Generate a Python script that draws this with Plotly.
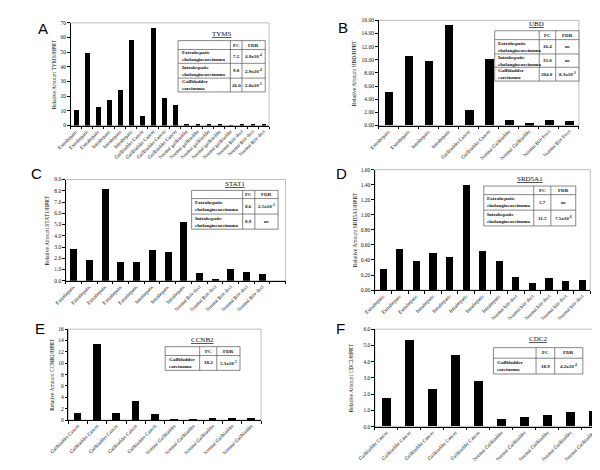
import plotly.graph_objects as go

W, H = 600, 470

# ---------------- data ----------------
A_title = "TYMS"
A_cats = ["Extrahepatic"] * 3 + ["Intrahepatic"] * 3 + ["Gallbladder Cancer"] * 4 + \
         ["Normal gallbladder"] * 5 + ["Normal Bile duct"] * 3
A_vals = [10.6, 49.7, 12.6, 17.4, 24.6, 58.3, 6.3, 66.6, 19.2, 14.4,
          0.6, 1.0, 1.3, 0.7, 0.3, 1.0, 0.7, 0.5]
A_ticks = [0, 10, 20, 30, 40, 50, 60, 70]

B_title = "UBD"
B_cats = ["Extrahepatic", "Extrahepatic", "Intrahepatic", "Intrahepatic",
          "Gallbladder Cancer", "Gallbladder Cancer", "Normal Gallbladder",
          "Normal Gallbladder", "Normal Bile Duct", "Normal Bile Duct"]
B_vals = [5.1, 10.5, 9.8, 15.2, 2.3, 10.05, 0.75, 0.28, 0.8, 0.65]
B_ticks = [0, 2, 4, 6, 8, 10, 12, 14, 16]

C_title = "STAT1"
C_cats = ["Extrahepatic"] * 5 + ["Intrahepatic"] * 3 + ["Normal Bile duct"] * 5 + [" "]
C_vals = [2.9, 1.85, 8.2, 1.75, 1.7, 2.8, 2.6, 5.25, 0.73, 0.23, 1.1, 0.79, 0.62, None]
C_ticks = [0, 1, 2, 3, 4, 5, 6, 7, 8, 9]

D_title = "SRD5A1"
D_cats = ["Extrahepatic"] * 3 + ["Intrahepatic"] * 5 + ["Normal bile duct"] * 5
D_vals = [0.285, 0.55, 0.385, 0.50, 0.44, 1.40, 0.52, 0.385, 0.175, 0.105, 0.168, 0.13, 0.14]
D_ticks = [0, 0.2, 0.4, 0.6, 0.8, 1.0, 1.2, 1.4, 1.6]

E_title = "CCNB2"
E_cats = ["Gallbladder Cancer"] * 5 + ["Normal Gallbladder"] * 5
E_vals = [1.16, 13.4, 1.16, 3.3, 1.0, 0.1, 0.1, 0.15, 0.15, 0.2]
E_ticks = [0, 2, 4, 6, 8, 10, 12, 14, 16]

F_title = "CDC2"
F_cats = ["Gallbladder Cancer"] * 5 + ["Normal Gallbladder"] * 5
F_vals = [1.74, 5.33, 2.29, 4.42, 2.8, 0.43, 0.61, 0.71, 0.89, 0.97]
F_ticks = [0, 1, 2, 3, 4, 5, 6]

# table contents
A_rows = [["Extrahepatic<br>cholangiocarcinoma", "7.2", "4.9x10<sup>-4</sup>"],
          ["Intrahepatic<br>cholangiocarcinoma", "9.0", "2.9x10<sup>-4</sup>"],
          ["Gallbladder<br>carcinoma", "26.0", "2.0x10<sup>-3</sup>"]]
B_rows = [["Extrahepatic<br>cholangiocarcinoma", "16.4", "ns"],
          ["Intrahepatic<br>cholangiocarcinoma", "33.0", "ns"],
          ["Gallbladder<br>carcinoma", "204.0", "8.3x10<sup>-3</sup>"]]
C_rows = [["Extrahepatic<br>cholangiocarcinoma", "8.6", "2.5x10<sup>-3</sup>"],
          ["Intrahepatic<br>cholangiocarcinoma", "8.9", "ns"]]
D_rows = [["Extrahepatic<br>cholangiocarcinoma", "5.7", "ns"],
          ["Intrahepatic<br>cholangiocarcinoma", "11.5", "7.5x10<sup>-6</sup>"]]
E_rows = [["Gallbladder<br>carcinoma", "18.2", "5.1x10<sup>-5</sup>"]]
F_rows = [["Gallbladder<br>carcinoma", "18.9", "4.2x10<sup>-4</sup>"]]
header = ["", "FC", "FDR"]

SERIF = "Liberation Serif, Times New Roman, serif"
SANS = "Liberation Sans, Arial, sans-serif"
TXT = "#111111"


def X(px):
    return px / W


def Y(py):
    return 1 - py / H


panels = [
    dict(letter="A", cats=A_cats, vals=A_vals, ticks=A_ticks, fmt="{:.0f}", gene=A_title, rows=A_rows,
         rect=(45, 250, 12, 116), lpos=(17, 18), ytx=28, bw=0.42,
         tab=dict(x=(156, 210, 222, 246), y=(30, 39, 53, 68, 82), ty=23)),
    dict(letter="B", cats=B_cats, vals=B_vals, ticks=B_ticks, fmt="{:.2f}", gene=B_title, rows=B_rows,
         rect=(363, 570, 9.5, 116), lpos=(326, 17), ytx=338, bw=0.43,
         tab=dict(x=(483, 529, 546, 570), y=(20, 29, 43.5, 57, 71), ty=13.5)),
    dict(letter="C", cats=C_cats, vals=C_vals, ticks=C_ticks, fmt="{:.1f}", gene=C_title, rows=C_rows,
         rect=(40, 267, 170.7, 273.3), lpos=(10, 165), ytx=21, bw=0.45,
         tab=dict(x=(170, 222.7, 235.3, 259.3), y=(181.7, 190, 205.7, 221), ty=175)),
    dict(letter="D", cats=D_cats, vals=D_vals, ticks=D_ticks, fmt="{:.2f}", gene=D_title, rows=D_rows,
         rect=(359.3, 581.7, 160.7, 282.7), lpos=(325, 165), ytx=339, bw=0.43,
         tab=dict(x=(471.7, 523.3, 541, 566.7), y=(177.3, 186, 201.7, 217.7), ty=170)),
    dict(letter="E", cats=E_cats, vals=E_vals, ticks=E_ticks, fmt="{:.0f}", gene=E_title, rows=E_rows,
         rect=(42.7, 241.7, 322.3, 414.3), lpos=(13, 322), ytx=25, bw=0.4,
         tab=dict(x=(142.7, 178.3, 196, 220), y=(340, 349, 364), ty=333.3)),
    dict(letter="F", cats=F_cats, vals=F_vals, ticks=F_ticks, fmt="{:.1f}", gene=F_title, rows=F_rows,
         rect=(359.3, 596.7, 322.3, 421), lpos=(324, 322), ytx=335, bw=0.42,
         tab=dict(x=(481.7, 525.7, 545, 574), y=(341, 351.7, 367.7), ty=332.3)),
]

fig = go.Figure()
shapes = []
annotations = []
layout_axes = {}

for i, p in enumerate(panels, start=1):
    xa = "x" if i == 1 else f"x{i}"
    ya = "y" if i == 1 else f"y{i}"
    n = len(p["cats"])
    idx = list(range(n))
    fig.add_trace(go.Bar(x=idx, y=p["vals"], xaxis=xa, yaxis=ya, width=p["bw"],
                         marker=dict(color="black", line=dict(width=0)), showlegend=False))
    x0, x1, y0, y1 = p["rect"]
    ymax = p["ticks"][-1]
    kx = "xaxis" if i == 1 else f"xaxis{i}"
    ky = "yaxis" if i == 1 else f"yaxis{i}"
    layout_axes[kx] = dict(domain=[X(x0), X(x1)], anchor=ya, range=[-0.5, n - 0.5],
                           tickmode="array", tickvals=idx, ticktext=p["cats"], tickangle=-45,
                           ticks="", showline=True, linecolor="black", linewidth=1,
                           showgrid=False, zeroline=False, fixedrange=True,
                           tickfont=dict(family=SERIF, size=5, color=TXT),
                           minor=dict(ticks="outside", tick0=-0.5, dtick=1, ticklen=2.5,
                                      tickcolor="black", tickwidth=0.8, showgrid=False))
    layout_axes[ky] = dict(domain=[Y(y1), Y(y0)], anchor=xa, range=[0, ymax],
                           tickmode="array", tickvals=p["ticks"],
                           ticktext=[p["fmt"].format(t) for t in p["ticks"]],
                           ticks="outside", ticklen=2.5, tickwidth=0.8, tickcolor="black",
                           showline=True, linecolor="black", linewidth=1,
                           showgrid=False, zeroline=False, fixedrange=True,
                           tickfont=dict(family=SERIF, size=5.5, color=TXT))
    shapes.append(dict(type="rect", xref=f"{xa} domain", yref=f"{ya} domain", x0=0, x1=1, y0=0, y1=1,
                       line=dict(color="#bdbdbd", width=1), layer="below"))
    annotations.append(dict(text=p["letter"], x=X(p["lpos"][0]), y=Y(p["lpos"][1]), xref="paper",
                            yref="paper", showarrow=False, font=dict(family=SANS, size=15, color="black"),
                            xanchor="center", yanchor="middle"))
    annotations.append(dict(text=f"Relative Amount {p['gene']}/HPRT", x=X(p["ytx"]),
                            y=Y((y0 + y1) / 2), xref="paper", yref="paper", showarrow=False,
                            textangle=-90, font=dict(family=SERIF, size=5.5, color=TXT),
                            xanchor="center", yanchor="middle"))
    t = p["tab"]
    tx, ty = t["x"], t["y"]
    lc = dict(color="#555", width=0.7)
    shapes.append(dict(type="rect", xref="paper", yref="paper", x0=X(tx[0]), x1=X(tx[3]),
                       y0=Y(ty[-1]), y1=Y(ty[0]), line=lc, fillcolor="white", layer="above"))
    for cx in (tx[1], tx[2]):
        shapes.append(dict(type="line", xref="paper", yref="paper", x0=X(cx), x1=X(cx),
                           y0=Y(ty[-1]), y1=Y(ty[0]), line=lc))
    for ry in ty[1:-1]:
        shapes.append(dict(type="line", xref="paper", yref="paper", x0=X(tx[0]), x1=X(tx[3]),
                           y0=Y(ry), y1=Y(ry), line=lc))
    annotations.append(dict(text=f"<u>{p['gene']}</u>", x=X((tx[0] + tx[3]) / 2), y=Y(t["ty"]),
                            xref="paper", yref="paper", showarrow=False,
                            font=dict(family=SERIF, size=7, color=TXT), xanchor="center",
                            yanchor="middle"))
    table_rows = [header] + p["rows"]
    for r, row in enumerate(table_rows):
        yc = Y((ty[r] + ty[r + 1]) / 2)
        if row[0]:
            annotations.append(dict(text=f"<b>{row[0]}</b>", x=X(tx[0] + 1.5), y=yc, xref="paper",
                                    yref="paper", showarrow=False, align="left",
                                    font=dict(family=SERIF, size=5, color=TXT),
                                    xanchor="left", yanchor="middle"))
        for c in (1, 2):
            annotations.append(dict(text=f"<b>{row[c]}</b>", x=X((tx[c] + tx[c + 1]) / 2), y=yc,
                                    xref="paper", yref="paper", showarrow=False,
                                    font=dict(family=SERIF, size=5, color=TXT),
                                    xanchor="center", yanchor="middle"))

fig.update_layout(width=W, height=H, margin=dict(l=0, r=0, t=0, b=0),
                  paper_bgcolor="white", plot_bgcolor="white", bargap=0,
                  shapes=shapes, annotations=annotations, **layout_axes)

fig.write_html("out.html")
